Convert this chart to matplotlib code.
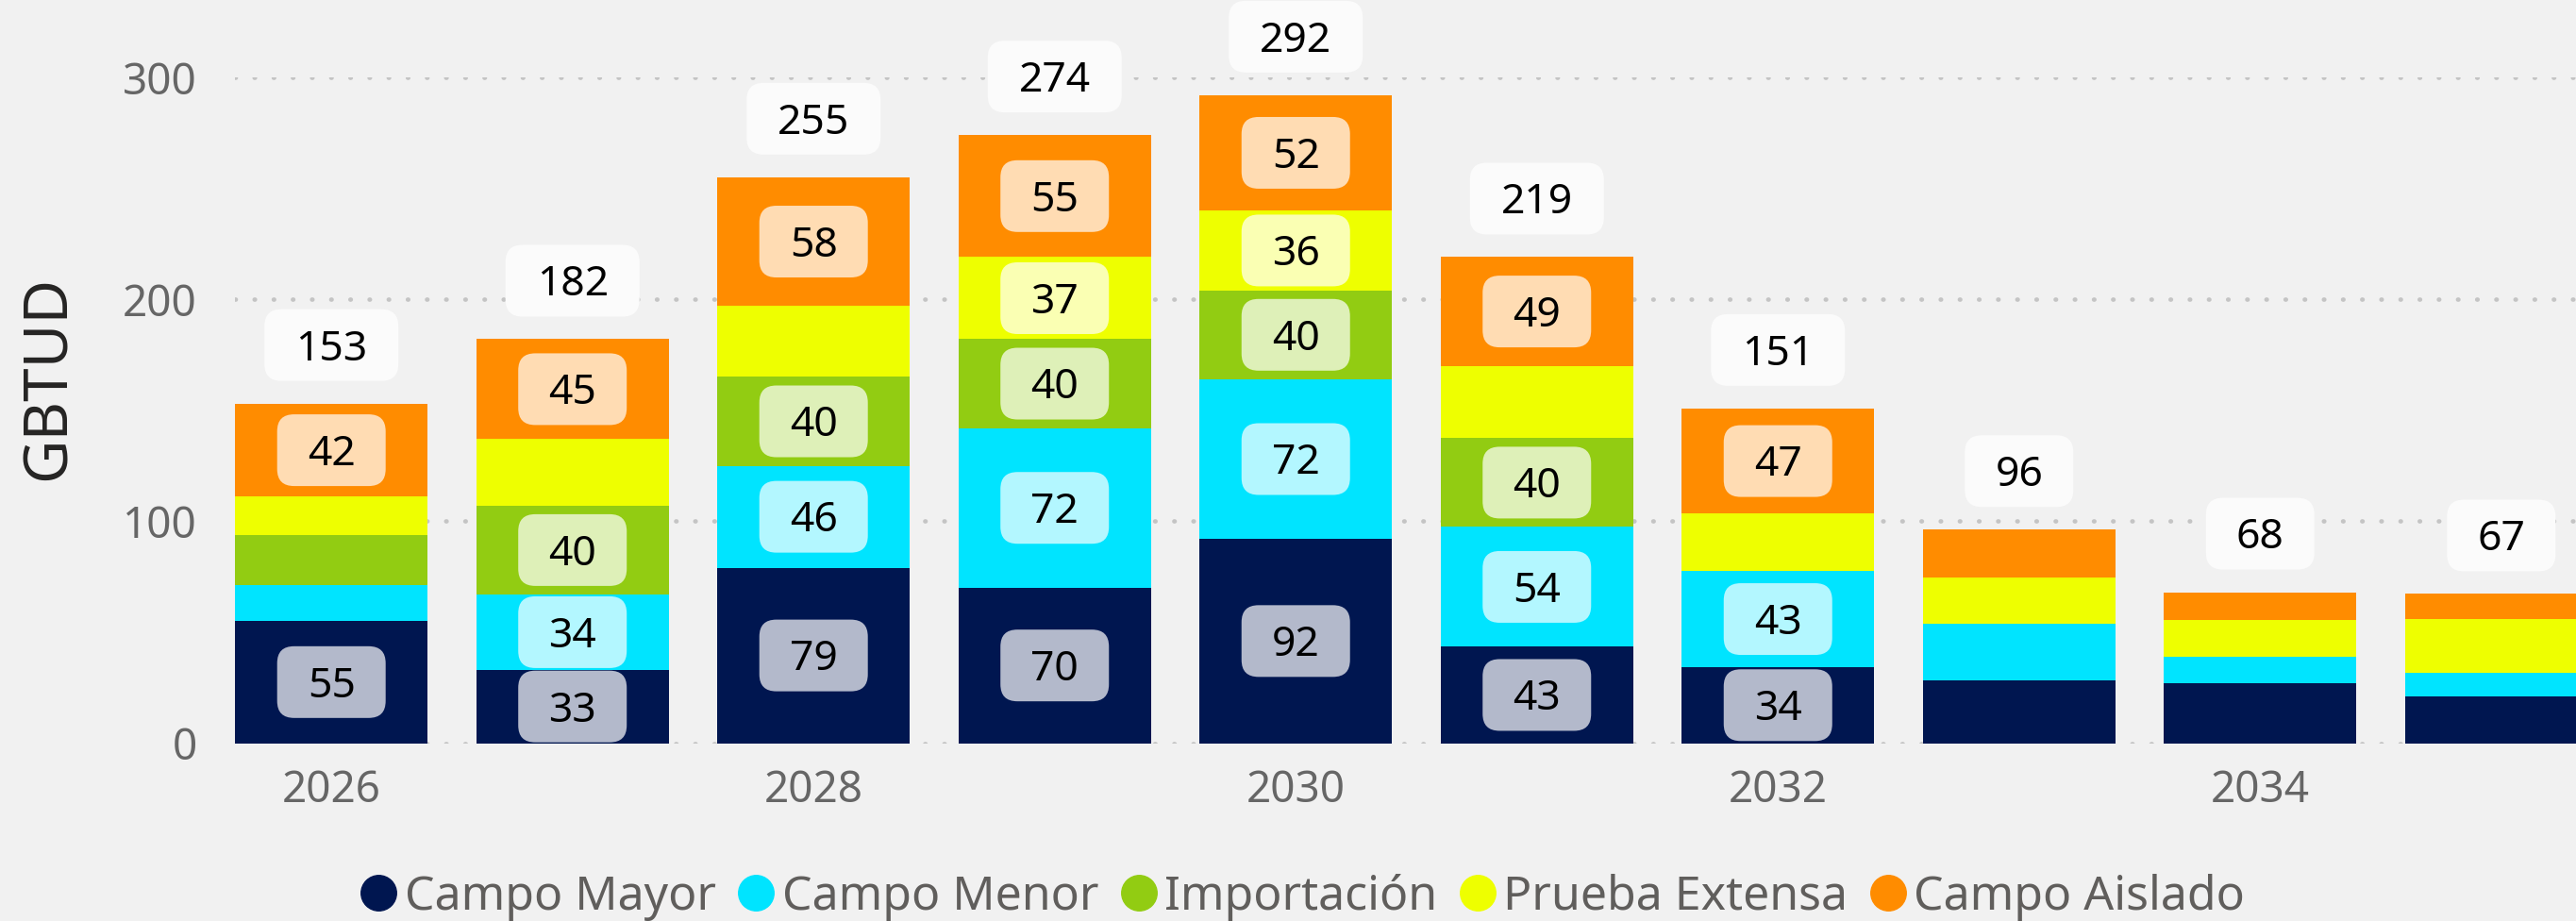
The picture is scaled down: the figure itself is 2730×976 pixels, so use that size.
import numpy as np
import matplotlib
matplotlib.use("Agg")
import matplotlib.pyplot as plt
import matplotlib.transforms as mtransforms
from matplotlib.patches import FancyBboxPatch
from matplotlib.lines import Line2D

plt.rcParams['font.family'] = ['Noto Sans', 'DejaVu Sans']

# data (GBTUD per year)
years = [2026, 2027, 2028, 2029, 2030, 2031, 2032, 2033, 2034, 2035]
campo_mayor = [55, 33, 79, 70, 92, 43.4, 34.2, 28.2, 26.8, 21.2]
campo_menor = [16.4, 34, 46, 72, 72, 54, 43.4, 25.5, 12.2, 10.6]
importacion = [22.3, 40, 40, 40, 40, 40, 0, 0, 0, 0]
prueba_extensa = [17.3, 30, 32, 37, 36, 32.6, 25.8, 20.9, 16.5, 24.0]
campo_aislado = [42, 45, 58, 55, 52, 49, 47.4, 21.6, 12.5, 11.4]

series_names = ["Campo Mayor", "Campo Menor", "Importación",
                "Prueba Extensa", "Campo Aislado"]
series_values = [campo_mayor, campo_menor, importacion,
                 prueba_extensa, campo_aislado]
colors = ["#001650", "#00e4ff", "#92cc12", "#eeff00", "#ff8c00"]

BG = "#f1f1f1"
W, H = 2730, 976

fig = plt.figure(figsize=(W / 100, H / 100), dpi=100, facecolor=BG)
ax = fig.add_axes([249 / W, 188.5 / H, 1 - 249 / W, (787.5 - 82) / H])
ax.set_facecolor(BG)


def tint(c, a=0.3):
    rgb = np.array(matplotlib.colors.to_rgb(c))
    return tuple(rgb * a + (1 - a))


def draw_label(x, y, text, face, dy=0, fs=32):
    # rounded box sized in pixels, anchored at data point (x, y)
    trans = mtransforms.ScaledTranslation(x, y, ax.transData)
    w = 61 + 27 * len(text)
    h = 76
    box = FancyBboxPatch((-w / 2 + 18, dy - h / 2 + 18), w - 36, h - 36,
                         boxstyle="round,pad=18", transform=trans,
                         facecolor=face, edgecolor="none", zorder=4,
                         clip_on=False)
    ax.add_artist(box)
    ax.text(0, dy - 0.357 * fs * 100 / 72, text, transform=trans,
            ha="center", va="baseline", fontsize=fs, color="black",
            zorder=5)


x = np.array(years)
bottom = np.zeros(len(years))
for name, vals, col in zip(series_names, series_values, colors):
    vals = np.array(vals, dtype=float)
    ax.bar(x, vals, width=0.8, bottom=bottom, color=col, zorder=2,
           label=name)
    for xi, b, v in zip(x, bottom, vals):
        if v >= 33:
            draw_label(xi, b + v / 2, "{:.0f}".format(v), tint(col))
    bottom += vals

totals = bottom
for xi, t in zip(x, totals):
    draw_label(xi, t, "{:.0f}".format(t), "#fbfbfb", dy=62)

ax.set_xlim(2025.6, 2035.31)
ax.set_ylim(0, 300)
ax.set_yticks([0, 100, 200, 300])
ax.set_xticks([2026, 2028, 2030, 2032, 2034])
ax.tick_params(axis="both", length=0, labelsize=33, colors="#666666")
ax.tick_params(axis="y", pad=29)
ax.tick_params(axis="x", pad=20)
ax.grid(axis="y", color="#c4c4c4", linewidth=3.4,
        linestyle=(0, (0.1, 4.2)), dash_capstyle="round", zorder=0)
ax.set_axisbelow(True)
for s in ax.spines.values():
    s.set_visible(False)

fig.text(52 / W, 1 - 400 / H, "GBTUD", rotation=90, ha="center",
         va="center", fontsize=46, color="#252423")

handles = [Line2D([], [], linestyle="none", marker="o", markersize=27,
                  markerfacecolor=c, markeredgecolor=c) for c in colors]
fig.legend(handles, series_names, loc="center", bbox_to_anchor=(0.5055, 0.026),
           ncol=5, frameon=False, fontsize=36, handlelength=0.8,
           handletextpad=0.15, columnspacing=0.45, labelcolor="#605e5c")

fig.savefig("out.png", dpi=100, facecolor=BG)
